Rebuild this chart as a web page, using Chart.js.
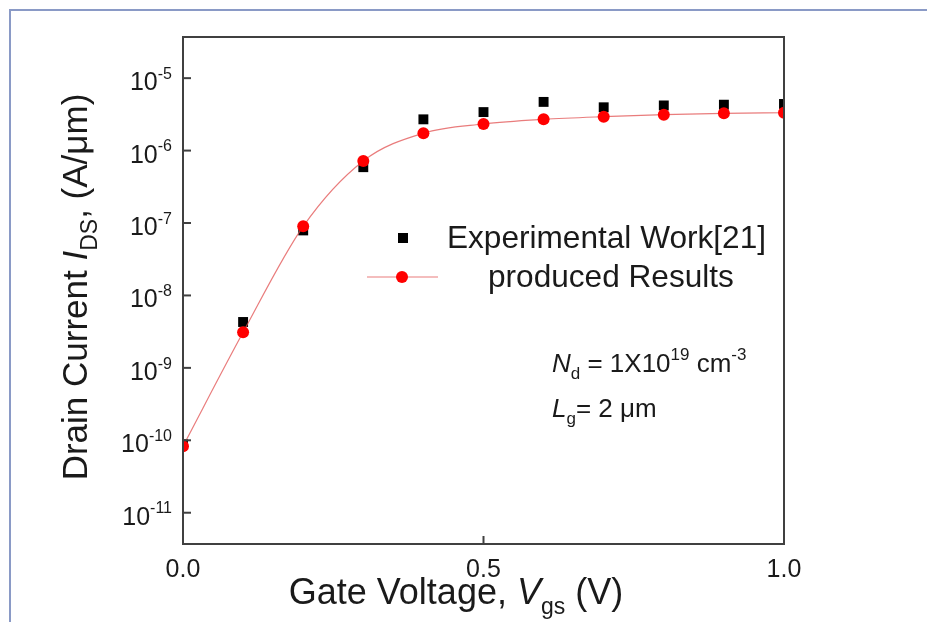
<!DOCTYPE html>
<html>
<head>
<meta charset="utf-8">
<title>Drain current vs gate voltage</title>
<script src="https://cdn.jsdelivr.net/npm/chart.js@4.4.1/dist/chart.umd.min.js"></script>
<style>
  html, body { margin: 0; padding: 0; background: #ffffff; }
  #wrap { width: 927px; height: 622px; }
</style>
</head>
<body>
<div id="wrap"><canvas id="myChart" width="927" height="622"></canvas></div>
<script>
'use strict';

// gate voltage (V)
let vgsValues = [0, 0.1, 0.2, 0.3, 0.4, 0.5, 0.6, 0.7, 0.8, 0.9, 1.0];
// experimental work [21], drain current (A/um)
let experimentalValues = [8.8e-11, 4.3e-9, 7.9e-8, 5.9e-7, 2.7e-6, 3.4e-6, 4.7e-6, 3.96e-6, 4.2e-6, 4.3e-6, 4.4e-6];
// produced results, drain current (A/um)
let producedValues = [8.3e-11, 3.1e-9, 9.0e-8, 7.2e-7, 1.74e-6, 2.33e-6, 2.7e-6, 2.94e-6, 3.13e-6, 3.27e-6, 3.33e-6];
// tick labels
let xTickValues = [0, 0.5, 1.0];
let xTickLabels = ['0.0', '0.5', '1.0'];
let yTickPowers = [-11, -10, -9, -8, -7, -6, -5];
let legendNames = ['Experimental Work[21]', 'produced Results'];

let fontName = '"Liberation Sans", Arial, Helvetica, sans-serif';
let textColor = '#1a1a1a';

//turn the arrays into points for the chart
function toPoints(values) {
    let points = [];
    for (let i = 0; i < vgsValues.length; i++) {
        points.push({ x: vgsValues[i], y: values[i] });
    }
    return points;
}

//text with italic, subscript and superscript pieces
function setPartFont(ctx, style, size) {
    let small = Math.round(size * 0.65);
    let s = (style === 'sub' || style === 'sup') ? small : size;
    ctx.font = (style === 'i' ? 'italic ' : '') + s + 'px ' + fontName;
}
function measureParts(ctx, parts, size) {
    let w = 0;
    for (let p of parts) {
        setPartFont(ctx, p[1], size);
        w += ctx.measureText(p[0]).width;
    }
    return w;
}
function drawParts(ctx, parts, x, y, size) {
    let cx = x;
    for (let p of parts) {
        setPartFont(ctx, p[1], size);
        let dy = 0;
        if (p[1] === 'sub') dy = size * 0.28;
        if (p[1] === 'sup') dy = -size * 0.45;
        ctx.fillText(p[0], cx, y + dy);
        cx += ctx.measureText(p[0]).width;
    }
}

//plugin for the frame, ticks, titles, legend and note
let paperPlugin = {
    id: 'paper',
    beforeDraw(chart) {
        let ctx = chart.ctx;
        ctx.save();
        ctx.strokeStyle = '#8a9ac6';
        ctx.lineWidth = 2;
        ctx.beginPath();
        ctx.moveTo(10, 622);
        ctx.lineTo(10, 10);
        ctx.lineTo(927, 10);
        ctx.stroke();
        ctx.restore();
    },
    afterDraw(chart) {
        let ctx = chart.ctx;
        let area = chart.chartArea;
        let xScale = chart.scales.x;
        let yScale = chart.scales.y;
        ctx.save();

        //plot box
        ctx.strokeStyle = '#404040';
        ctx.lineWidth = 2;
        ctx.strokeRect(area.left, area.top, area.right - area.left, area.bottom - area.top);

        //inward ticks and labels on the y axis
        ctx.fillStyle = textColor;
        ctx.textBaseline = 'alphabetic';
        ctx.textAlign = 'left';
        for (let p of yTickPowers) {
            let y = yScale.getPixelForValue(Math.pow(10, p));
            ctx.beginPath();
            ctx.moveTo(area.left, y);
            ctx.lineTo(area.left + 8, y);
            ctx.stroke();
            let parts = [['10', ''], [String(p), 'sup']];
            let w = measureParts(ctx, parts, 25);
            drawParts(ctx, parts, 172 - w, y + 12, 25);
        }

        //ticks and labels on the x axis
        ctx.textAlign = 'center';
        ctx.font = '25px ' + fontName;
        for (let i = 0; i < xTickValues.length; i++) {
            let x = xScale.getPixelForValue(xTickValues[i]);
            ctx.beginPath();
            ctx.moveTo(x, area.bottom);
            ctx.lineTo(x, area.bottom - 8);
            ctx.stroke();
            ctx.fillText(xTickLabels[i], x, 577);
        }
        ctx.textAlign = 'left';

        //x title
        let xTitle = [['Gate Voltage, ', ''], ['V', 'i'], ['gs', 'sub'], [' (V)', '']];
        let xw = measureParts(ctx, xTitle, 36);
        drawParts(ctx, xTitle, 456 - xw / 2, 604, 36);

        //y title
        let yTitle = [['Drain Current ', ''], ['I', 'i'], ['DS', 'sub'], [', (A/\u03bcm)', '']];
        let yw = measureParts(ctx, yTitle, 35);
        ctx.save();
        ctx.translate(87, 287);
        ctx.rotate(-Math.PI / 2);
        drawParts(ctx, yTitle, -yw / 2, 0, 35);
        ctx.restore();

        //legend
        ctx.fillStyle = '#000000';
        ctx.fillRect(398, 233, 10, 10);
        ctx.strokeStyle = 'rgba(225, 80, 80, 0.75)';
        ctx.lineWidth = 1.2;
        ctx.beginPath();
        ctx.moveTo(367, 277);
        ctx.lineTo(438, 277);
        ctx.stroke();
        ctx.fillStyle = '#ff0000';
        ctx.beginPath();
        ctx.arc(402, 277, 6, 0, Math.PI * 2);
        ctx.fill();
        ctx.fillStyle = textColor;
        ctx.font = '31.6px ' + fontName;
        ctx.textBaseline = 'middle';
        ctx.fillText(legendNames[0], 447, 239);
        ctx.fillText(legendNames[1], 488, 278);

        //note about the device
        ctx.textBaseline = 'alphabetic';
        drawParts(ctx, [['N', 'i'], ['d', 'sub'], [' = 1X10', ''], ['19', 'sup'], [' cm', ''], ['-3', 'sup']], 552, 372, 26);
        drawParts(ctx, [['L', 'i'], ['g', 'sub'], ['= 2 \u03bcm', '']], 552, 417, 26);

        ctx.restore();
    }
};

let ctx = document.getElementById('myChart').getContext('2d');
let chart = new Chart(ctx, {
    type: 'line',
    data: {
        datasets: [{
            label: legendNames[0],
            data: toPoints(experimentalValues),
            showLine: false,
            pointStyle: 'rect',
            pointRadius: 7,
            backgroundColor: '#000000',
            borderColor: '#000000',
            borderWidth: 0,
            order: 2
        }, {
            label: legendNames[1],
            data: toPoints(producedValues),
            showLine: true,
            borderColor: 'rgba(225, 80, 80, 0.75)',
            borderWidth: 1.2,
            pointRadius: 6,
            pointBackgroundColor: '#ff0000',
            pointBorderColor: '#ff0000',
            pointBorderWidth: 0,
            cubicInterpolationMode: 'monotone',
            order: 1
        }]
    },
    options: {
        responsive: false,
        devicePixelRatio: 1,
        animation: false,
        layout: { padding: { left: 0, top: 37, right: 143, bottom: 0 } },
        plugins: {
            legend: { display: false },
            tooltip: { enabled: false }
        },
        scales: {
            x: {
                type: 'linear',
                min: 0,
                max: 1,
                grid: { display: false },
                border: { display: false },
                ticks: { display: false },
                afterFit(scale) { scale.height = 78; }
            },
            y: {
                type: 'logarithmic',
                min: 3.7e-12,
                max: 3.7e-5,
                grid: { display: false },
                border: { display: false },
                ticks: { display: false },
                afterFit(scale) { scale.width = 183; }
            }
        }
    },
    plugins: [paperPlugin]
});
</script>
</body>
</html>
